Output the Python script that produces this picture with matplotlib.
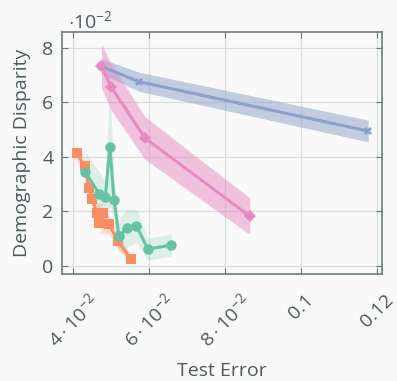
import matplotlib
matplotlib.use("Agg")
import matplotlib.pyplot as plt
import numpy as np

# data (y in units of 1e-2)
orange_x = [0.0410, 0.0431, 0.0442, 0.0451, 0.0462, 0.0479, 0.0468, 0.0495, 0.0518, 0.0552]
orange_y = [4.13, 3.65, 2.86, 2.47, 1.95, 1.93, 1.59, 1.53, 0.92, 0.25]
orange_sd = [0.30, 0.30, 0.35, 0.35, 0.40, 0.35, 0.40, 0.35, 0.30, 0.15]

green_x = [0.0433, 0.0469, 0.0485, 0.0497, 0.0508, 0.0521, 0.0542, 0.0567, 0.0597, 0.0659]
green_y = [3.43, 2.65, 2.52, 4.37, 2.43, 1.10, 1.39, 1.48, 0.62, 0.77]
green_sd = [0.75, 0.80, 0.60, 2.20, 0.70, 0.60, 0.70, 0.60, 0.40, 0.40]

blue_x = [0.0475, 0.0573, 0.1177]
blue_y = [7.32, 6.76, 4.95]
blue_sd = [0.28, 0.35, 0.40]

pink_x = [0.0475, 0.0501, 0.0589, 0.0865]
pink_y = [7.32, 6.56, 4.70, 1.83]
pink_sd = [0.80, 0.85, 0.78, 0.67]

xticks = [0.04, 0.06, 0.08, 0.10, 0.12]
xticklabels = [r'$4\cdot10^{-2}$', r'$6\cdot10^{-2}$', r'$8\cdot10^{-2}$', '0.1', '0.12']
yticks = [0, 2, 4, 6, 8]

txt = '#4d5a5e'
bg = '#f9f9f9'
plt.rcParams['font.family'] = ['Open Sans', 'DejaVu Sans']
plt.rcParams['mathtext.fontset'] = 'custom'
plt.rcParams['mathtext.rm'] = 'Open Sans'
plt.rcParams['mathtext.it'] = 'Open Sans'

fig = plt.figure(figsize=(3.97, 3.81), dpi=100, facecolor=bg)
ax = fig.add_axes([0.156, 0.281, 0.806, 0.635], facecolor=bg)

series = [
    (orange_x, orange_y, orange_sd, '#fc8d62', 's', 7.5, 0.25),
    (green_x, green_y, green_sd, '#66c2a5', 'o', 7.5, 0.2),
    (blue_x, blue_y, blue_sd, '#8da0cb', 'X', 6, 0.5),
    (pink_x, pink_y, pink_sd, '#e78ac3', 'D', 6, 0.5),
]
for x, y, sd, c, m, ms, a in series:
    x = np.array(x); y = np.array(y); sd = np.array(sd)
    ax.fill_between(x, y - sd, y + sd, color=c, alpha=a, lw=0)
    ax.plot(x, y, color=c, marker=m, ms=ms, lw=2.2, mew=0)

ax.set_xlim(0.0371, 0.1213)
ax.set_ylim(-0.29, 8.58)
ax.set_xticks(xticks)
ax.set_xticklabels(xticklabels, rotation=45, ha='center', va='top', fontsize=12)
ax.set_yticks(yticks)
ax.grid(True, color='#dcdcdc', lw=0.9)
ax.set_axisbelow(True)
for s in ax.spines.values():
    s.set_color('#6c7a7c')
    s.set_linewidth(1.2)
ax.tick_params(direction='in', length=4, color='#6c7a7c', top=True, right=True,
               labelsize=14, labelcolor=txt)
ax.tick_params(axis='x', pad=12)
ax.tick_params(axis='y', pad=6)
ax.set_xlabel('Test Error', fontsize=14, color=txt, labelpad=8)
ax.set_ylabel('Demographic Disparity', fontsize=14, color=txt, labelpad=8)
fig.text(0.172, 0.925, r'$\cdot10^{-2}$', fontsize=14, color=txt)

fig.savefig('out.png', dpi=100, facecolor=bg)
